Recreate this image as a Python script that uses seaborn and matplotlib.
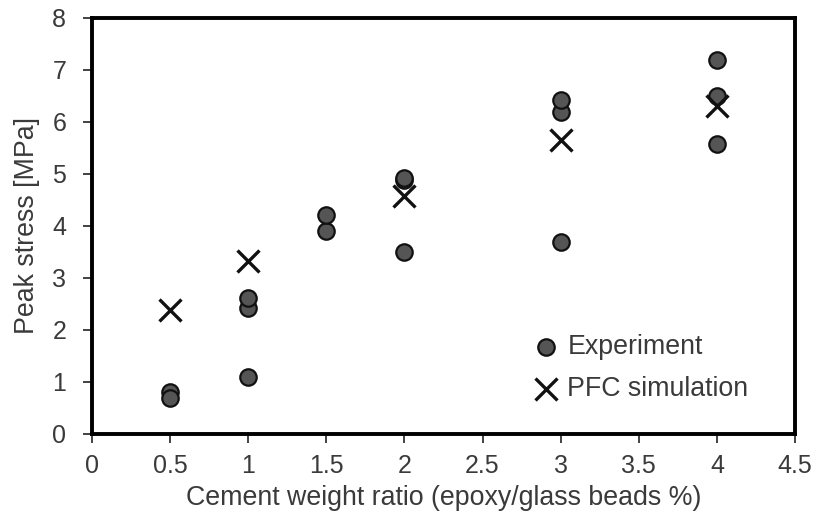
import matplotlib
matplotlib.use("Agg")
import matplotlib.pyplot as plt
import seaborn as sns
import pandas as pd

# Peak stress measurements (MPa) against cement weight ratio
exp_ratio = [0.5, 0.5, 1, 1, 1, 1.5, 1.5, 2, 2, 2, 3, 3, 3, 4, 4, 4]
exp_stress = [0.8, 0.7, 1.1, 2.42, 2.62, 3.9, 4.22, 3.5, 4.88, 4.93, 3.69, 6.2, 6.42, 5.58, 6.5, 7.2]

sim_ratio = [0.5, 1, 2, 3, 4]
sim_stress = [2.38, 3.33, 4.58, 5.65, 6.3]

x_ticks = [0, 0.5, 1, 1.5, 2, 2.5, 3, 3.5, 4, 4.5]
y_ticks = [0, 1, 2, 3, 4, 5, 6, 7, 8]

exp_df = pd.DataFrame({"ratio": exp_ratio, "stress": exp_stress})
sim_df = pd.DataFrame({"ratio": sim_ratio, "stress": sim_stress})

sns.set_theme(style="ticks")
plt.rcParams["font.family"] = ["Liberation Sans", "DejaVu Sans"]
text_color = "#3a3a3a"
label_size = 19.3

fig = plt.figure(figsize=(8.19, 5.2), dpi=100)
ax = fig.add_axes([0.1123, 0.1654, 0.8584, 0.8000])

sns.scatterplot(data=exp_df, x="ratio", y="stress", ax=ax, marker="o", s=140,
                color="#555555", edgecolor="#111111", linewidth=1.6,
                label="Experiment", zorder=3)
sns.scatterplot(data=sim_df, x="ratio", y="stress", ax=ax, marker="x", s=250,
                color="#111111", linewidth=2.4, label="PFC simulation", zorder=4)

ax.set_xlim(0, 4.5)
ax.set_ylim(0, 8)
ax.set_xticks(x_ticks)
ax.set_xticklabels([f"{v:g}" for v in x_ticks])
ax.set_yticks(y_ticks)

for side in ["left", "right", "top", "bottom"]:
    ax.spines[side].set_visible(True)
    ax.spines[side].set_linewidth(2.8)
    ax.spines[side].set_color("black")

ax.tick_params(axis="both", direction="out", length=6.5, width=1.2, color="#222222",
               labelsize=18, labelcolor=text_color)
ax.tick_params(axis="x", pad=8)
ax.tick_params(axis="y", pad=12)

ax.set_xlabel("Cement weight ratio (epoxy/glass beads %)", fontsize=label_size,
              color=text_color, labelpad=5)
ax.set_ylabel("Peak stress [MPa]", fontsize=label_size, color=text_color, labelpad=9)

leg = ax.legend(loc="lower right", bbox_to_anchor=(0.949, 0.05), frameon=False,
                fontsize=label_size, handletextpad=0.3, labelspacing=0.62,
                borderaxespad=0.0, handlelength=1.0)
for t in leg.get_texts():
    t.set_color(text_color)

fig.savefig("out.png", dpi=100)
